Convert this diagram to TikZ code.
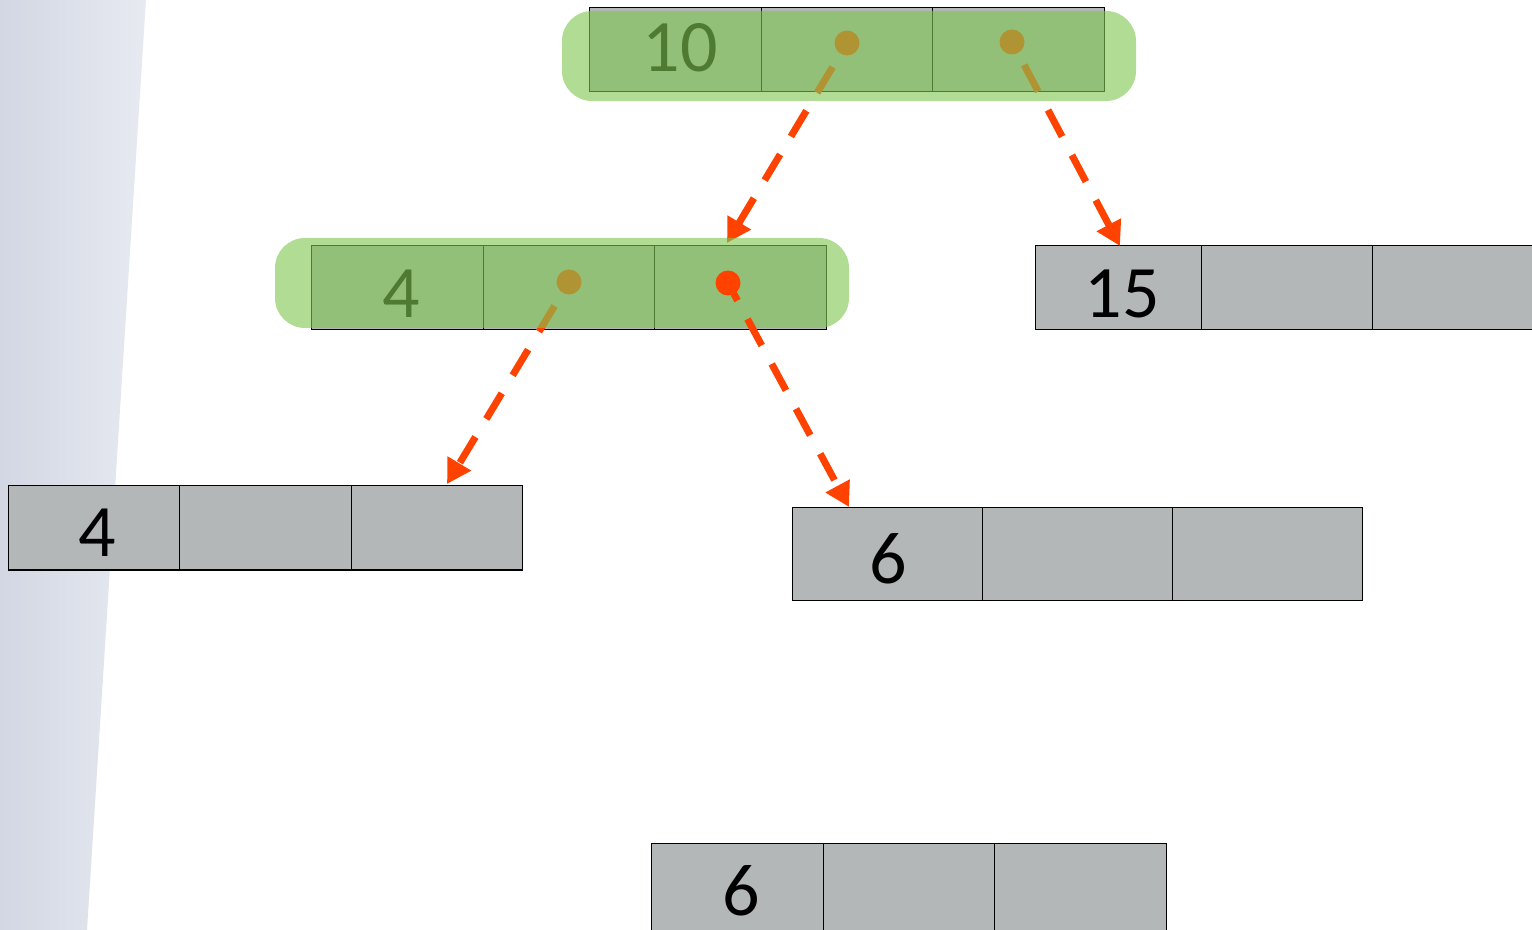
\documentclass[tikz,border=0pt]{standalone}
\usepackage{fontspec}
\setmainfont{Carlito}
\usetikzlibrary{arrows.meta}
\definecolor{cellgray}{RGB}{180,183,183}
\definecolor{arrowred}{RGB}{255,66,0}
\definecolor{hlgreen}{RGB}{128,198,82}
\definecolor{bandL}{RGB}{210,215,227}
\definecolor{bandR}{RGB}{231,234,241}
\tikzset{
  cell/.style={draw=black, line width=0.5pt, fill=cellgray, minimum width=85.75pt, minimum height=42pt, inner sep=0pt, outer sep=0pt},
  bigcell/.style={cell, minimum width=95pt, minimum height=46pt},
  num/.style={anchor=base, inner sep=0pt, font=\fontsize{37}{40}\selectfont},
  dot/.style={ellipse-like dot},
  ellipse-like dot/.style={circle, fill=arrowred, minimum size=12.5pt, inner sep=0pt},
  conn/.style={draw=arrowred, line width=3.5pt, dash pattern=on 15pt off 10.5pt, -{Triangle[length=12pt,width=13pt]}},
  hl/.style={fill=hlgreen, fill opacity=0.62, rounded corners=15pt, minimum width=287pt, minimum height=45pt, inner sep=0pt}
}
\begin{document}
\begin{tikzpicture}[x=0.5pt, y=-0.5pt]
\useasboundingbox (0,0) rectangle (1532,930);
\clip (0,0) rectangle (1532,930);
% background band
\shade[left color=bandL, right color=bandR] (0,0) -- (146,0) -- (87,930) -- (0,930) -- cycle;
% top node
\node[cell] (t1) at (675.5,50) {};
\node[cell] (t2) at (847,50) {};
\node[cell] (t3) at (1018.5,50) {};
\node[num] (t1txt) at (680,72) {10};
% middle node
\node[cell] (m1) at (397.5,288) {};
\node[cell] (m2) at (569,288) {};
\node[cell] (m3) at (740.5,288) {};
\node[num] (m1txt) at (401,318) {4};
% right node
\node[cell, minimum width=83.5pt] (r1) at (1118.5,288) {};
\node[cell] (r2) at (1287.5,288) {};
\node[cell] (r3) at (1458.5,288) {};
\node[num] (r1txt) at (1122,318) {15};
% left node
\node[cell] (l1) at (94,528) {};
\node[cell] (l2) at (265.5,528) {};
\node[cell] (l3) at (437,528) {};
\node[num] (l1txt) at (97,557) {4};
% mid-right node
\node[bigcell] (s1) at (887,554) {};
\node[bigcell] (s2) at (1077,554) {};
\node[bigcell] (s3) at (1267.5,554) {};
\node[num] (s1txt) at (888,583) {6};
% bottom node (runs past the lower edge)
\node[cell, minimum height=46pt] (b1) at (737.5,889) {};
\node[cell, minimum height=46pt] (b2) at (909,889) {};
\node[cell, minimum height=46pt] (b3) at (1080.5,889) {};
\node[num] (b1txt) at (741,915) {6};
% pointer dots and tips
\node[dot] (d1) at (847,43) {};
\node[dot] (d2) at (1012,42) {};
\node[dot] (d3) at (569,282) {};
\coordinate (tip1) at (727,243);
\coordinate (tip2) at (1120,246);
\coordinate (tip3) at (447,484);
\coordinate (tip4) at (849,507);
\draw[conn, shorten <=14pt] (d1.center) -- (tip1);
\draw[conn, shorten <=13pt] (d2.center) -- (tip2);
\draw[conn, shorten <=14pt] (d3.center) -- (tip3);
% highlights
\node[hl] (hlTop) at (849,56) {};
\node[hl] (hlMid) at (562,283) {};
% active pointer on top
\node[dot] (d4) at (728,283) {};
\draw[conn, dash phase=5pt] (d4.center) -- (tip4);
\end{tikzpicture}
\end{document}
